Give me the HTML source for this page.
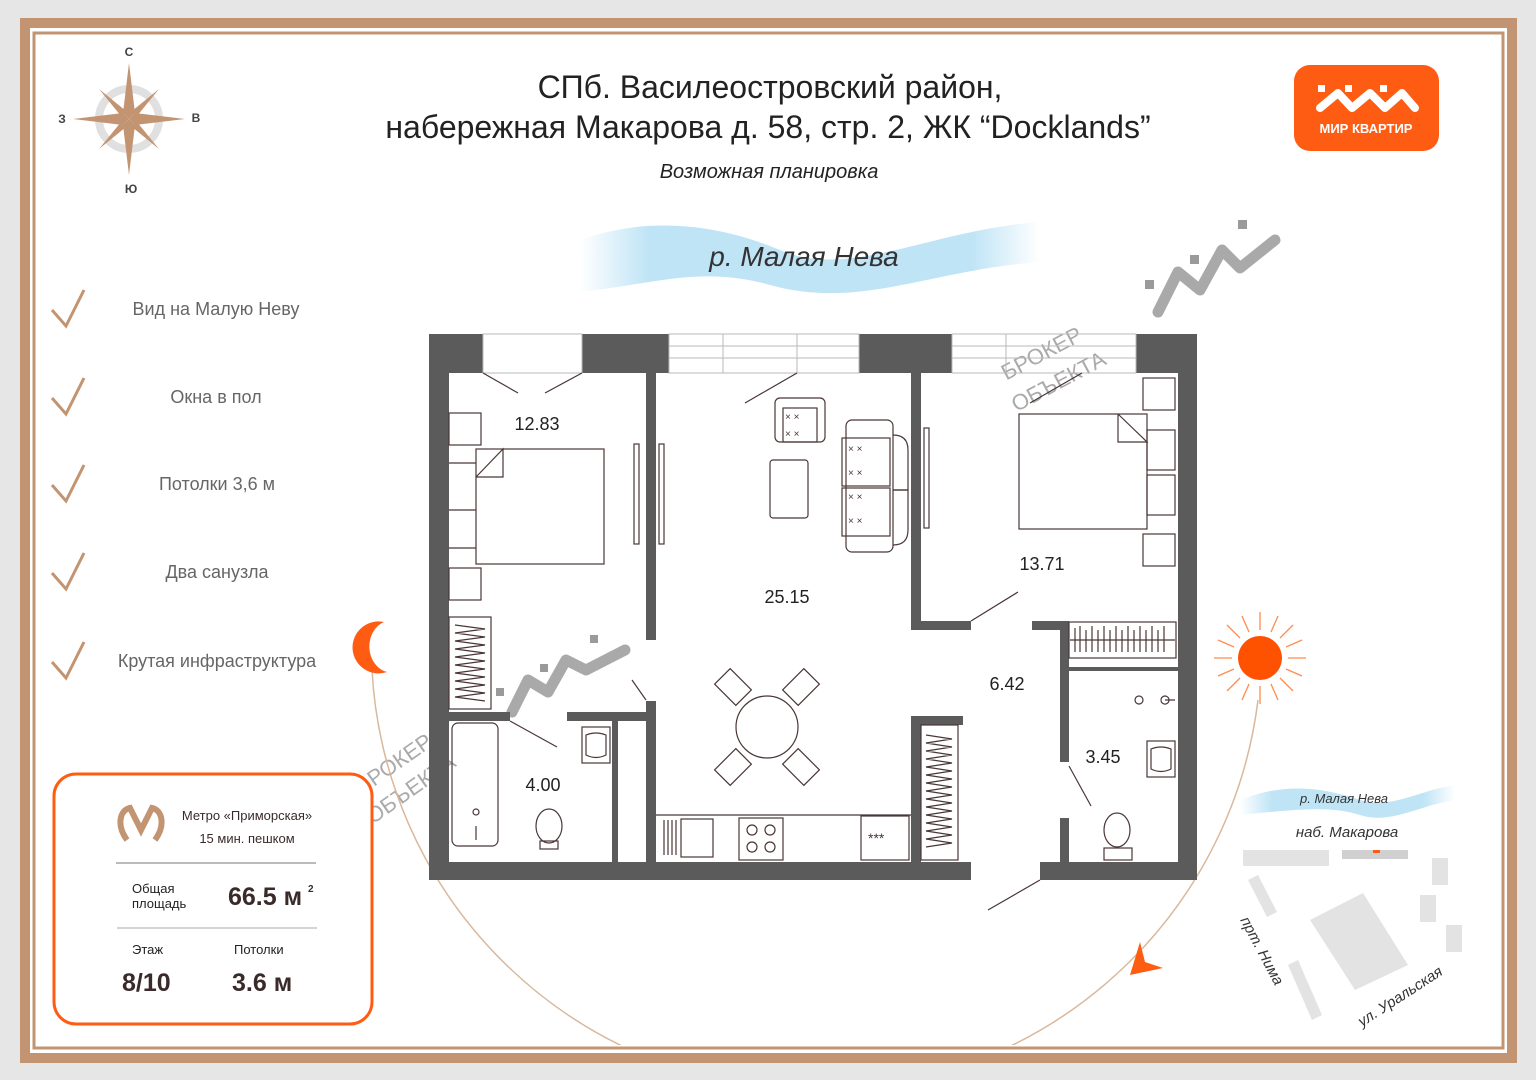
<!DOCTYPE html>
<html><head><meta charset="utf-8"><style>
html,body{margin:0;padding:0;background:#e6e6e6}
svg{display:block}
text{font-family:"Liberation Sans",sans-serif}
</style></head><body>
<svg width="1536" height="1080" viewBox="0 0 1536 1080" xmlns="http://www.w3.org/2000/svg">
<defs>
<linearGradient id="riv" x1="0" x2="1" y1="0" y2="0">
<stop offset="0" stop-color="#bfe4f6" stop-opacity="0"/><stop offset="0.15" stop-color="#bfe4f6"/><stop offset="0.85" stop-color="#bfe4f6"/><stop offset="1" stop-color="#bfe4f6" stop-opacity="0"/>
</linearGradient>
<clipPath id="fr"><rect x="36" y="35" width="1465" height="1010"/></clipPath>
</defs>
<rect x="0" y="0" width="1536" height="1080" fill="#e6e6e6"/>
<rect x="20" y="18" width="1497" height="1045" fill="#c39471"/>
<rect x="30" y="28" width="1477" height="1025" fill="#fff"/>
<rect x="34" y="33" width="1469" height="1015" fill="none" stroke="#c39471" stroke-width="3"/>

<!-- compass -->
<g transform="translate(129,119)">
<circle r="30" fill="none" stroke="#e0e0e0" stroke-width="8"/>
<g fill="#c39471">
<polygon points="0,-56 6,-6 0,0 -6,-6"/><polygon points="0,56 6,6 0,0 -6,6"/>
<polygon points="-56,0 -6,-6 0,0 -6,6"/><polygon points="56,0 6,-6 0,0 6,6"/>
<polygon points="-30,-30 -3,-8 -8,-3"/><polygon points="30,-30 3,-8 8,-3"/>
<polygon points="-30,30 -3,8 -8,3"/><polygon points="30,30 3,8 8,3"/>
</g>
</g>
<g font-size="12" font-weight="bold" fill="#444" text-anchor="middle">
<text x="129" y="56">С</text><text x="131" y="193">Ю</text><text x="62" y="123">З</text><text x="196" y="122">В</text>
</g>

<!-- title -->
<g fill="#222" text-anchor="middle">
<text x="770" y="98" font-size="32">СПб. Василеостровский район,</text>
<text x="768" y="138" font-size="32">набережная Макарова д. 58, стр. 2, ЖК “Docklands”</text>
<text x="769" y="178" font-size="20" font-style="italic">Возможная планировка</text>
</g>

<!-- logo -->
<rect x="1294" y="65" width="145" height="86" rx="16" fill="#ff5c13"/>
<g stroke="#fff" stroke-width="8" fill="none" stroke-linecap="round" stroke-linejoin="round">
<polyline points="1320,108 1338,93 1352,108 1370,93 1385,108 1402,93 1415,108"/>
</g>
<g fill="#fff"><rect x="1318" y="85" width="7" height="7"/><rect x="1345" y="85" width="7" height="7"/><rect x="1380" y="85" width="7" height="7"/></g>
<text x="1366" y="133" font-size="13" font-weight="bold" fill="#fff" text-anchor="middle">МИР КВАРТИР</text>

<!-- river -->
<path d="M580,240 C650,215 720,225 780,250 C850,280 930,230 1040,222 L1040,262 C930,270 860,310 770,285 C700,265 650,285 580,292 Z" fill="url(#riv)"/>
<text x="804" y="266" font-size="28" font-style="italic" fill="#333" text-anchor="middle">р. Малая Нева</text>

<!-- watermark logos -->
<g stroke="#9a9a9a" stroke-width="11" fill="none" stroke-linecap="round" stroke-linejoin="round" opacity="0.85">
<polyline points="1158,312 1178,272 1200,290 1222,250 1240,268 1275,240"/>
<polyline points="512,712 528,680 548,692 566,660 586,670 625,650"/>
</g>
<g fill="#9a9a9a"><rect x="1145" y="280" width="9" height="9"/><rect x="1190" y="255" width="9" height="9"/><rect x="1238" y="220" width="9" height="9"/>
<rect x="496" y="688" width="8" height="8"/><rect x="540" y="664" width="8" height="8"/><rect x="590" y="635" width="8" height="8"/></g>
<g fill="#aaa" font-size="22" text-anchor="middle">
<text transform="translate(1045,360) rotate(-28)">БРОКЕР</text>
<text transform="translate(1062,388) rotate(-28)">ОБЪЕКТА</text>
<text transform="translate(398,770) rotate(-35)">БРОКЕР</text>
<text transform="translate(415,795) rotate(-35)">ОБЪЕКТА</text>
</g>

<!-- checklist -->
<g stroke="#c39471" stroke-width="3" fill="none">
<polyline points="52,310 66,326 84,290"/><polyline points="52,398 66,414 84,378"/><polyline points="52,485 66,501 84,465"/><polyline points="52,573 66,589 84,553"/><polyline points="52,662 66,678 84,642"/>
</g>
<g fill="#666" font-size="18" text-anchor="middle">
<text x="216" y="315">Вид на Малую Неву</text>
<text x="216" y="403">Окна в пол</text>
<text x="217" y="490">Потолки 3,6 м</text>
<text x="217" y="578">Два санузла</text>
<text x="217" y="667">Крутая инфраструктура</text>
</g>

<!-- arc -->
<path d="M372,670 A445,445 0 0 0 1258,700" fill="none" stroke="#d9b89c" stroke-width="1.5" clip-path="url(#fr)"/>
<path d="M1130,975 L1163,968 L1145,962 L1140,942 Z" fill="#ff5c13"/>
<!-- moon -->
<path d="M384,622 A26,26 0 1 0 387,672 A22,26 0 0 1 384,622 Z" fill="#ff5c13"/>
<!-- sun -->
<g stroke="#ff8c50" stroke-width="1.3">
<g transform="translate(1260,658)">
<line x1="0" y1="-28" x2="0" y2="-46"/><line x1="0" y1="28" x2="0" y2="46"/><line x1="-28" y1="0" x2="-46" y2="0"/><line x1="28" y1="0" x2="46" y2="0"/>
<line x1="20" y1="-20" x2="33" y2="-33"/><line x1="-20" y1="-20" x2="-33" y2="-33"/><line x1="20" y1="20" x2="33" y2="33"/><line x1="-20" y1="20" x2="-33" y2="33"/>
<line x1="11" y1="-26" x2="18" y2="-42"/><line x1="-11" y1="-26" x2="-18" y2="-42"/><line x1="11" y1="26" x2="18" y2="42"/><line x1="-11" y1="26" x2="-18" y2="42"/>
<line x1="26" y1="-11" x2="42" y2="-18"/><line x1="-26" y1="-11" x2="-42" y2="-18"/><line x1="26" y1="11" x2="42" y2="18"/><line x1="-26" y1="11" x2="-42" y2="18"/>
</g></g>
<circle cx="1260" cy="658" r="22" fill="#ff5200"/>

<!-- mini map -->
<path d="M1240,800 C1290,780 1330,790 1360,800 C1390,810 1420,790 1455,785 L1455,800 C1420,805 1390,825 1360,815 C1330,805 1290,810 1240,815 Z" fill="url(#riv)"/>
<text x="1344" y="803" font-size="13" font-style="italic" fill="#333" text-anchor="middle">р. Малая Нева</text>
<text x="1347" y="837" font-size="15" font-style="italic" fill="#333" text-anchor="middle">наб. Макарова</text>
<g fill="#e3e3e3">
<rect x="1243" y="850" width="86" height="16"/><rect x="1342" y="850" width="66" height="9" fill="#d0d0d0"/>
<polygon points="1248,880 1258,875 1277,912 1267,917"/>
<polygon points="1310,920 1363,893 1408,965 1355,990"/>
<polygon points="1288,965 1298,960 1322,1015 1312,1020"/>
<rect x="1432" y="858" width="16" height="27"/><rect x="1420" y="895" width="16" height="27"/><rect x="1446" y="925" width="16" height="27"/>
</g>
<rect x="1373" y="850" width="7" height="3" fill="#ff5c13"/>
<text transform="translate(1240,920) rotate(62)" font-size="15" font-style="italic" fill="#333">прт. Нима</text>
<text transform="translate(1362,1027) rotate(-33)" font-size="15" font-style="italic" fill="#333">ул. Уральская</text>

<!-- info box -->
<rect x="54" y="774" width="318" height="250" rx="22" fill="#fff" stroke="#ff5c13" stroke-width="3"/>
<g fill="none" stroke="#c39471" stroke-width="6">
<path d="M127,840 C116,825 120,810 130,808 L141,830 L152,808 C162,810 166,825 155,840"/>
</g>
<g fill="#3a2a2a" font-size="13" text-anchor="middle">
<text x="247" y="820">Метро «Приморская»</text>
<text x="247" y="843">15 мин. пешком</text>
</g>
<line x1="116" y1="863" x2="316" y2="863" stroke="#777"/>
<line x1="117" y1="928" x2="317" y2="928" stroke="#aaa"/>
<text x="132" y="893" font-size="13" fill="#222">Общая</text>
<text x="132" y="908" font-size="13" fill="#222">площадь</text>
<text x="228" y="905" font-size="25" font-weight="bold" fill="#3a2a2a">66.5 м</text>
<text x="308" y="892" font-size="10" font-weight="bold" fill="#3a2a2a">2</text>
<text x="132" y="954" font-size="13" fill="#222">Этаж</text>
<text x="234" y="954" font-size="13" fill="#222">Потолки</text>
<text x="122" y="991" font-size="25" font-weight="bold" fill="#3a2a2a">8/10</text>
<text x="232" y="991" font-size="25" font-weight="bold" fill="#3a2a2a">3.6 м</text>

<!-- FLOOR PLAN -->
<g fill="#5b5b5b">
<rect x="429" y="334" width="20" height="546"/>
<rect x="1178" y="334" width="19" height="546"/>
<rect x="429" y="334" width="54" height="39"/>
<rect x="582" y="334" width="87" height="39"/>
<rect x="859" y="334" width="93" height="39"/>
<rect x="1136" y="334" width="42" height="39"/>
<rect x="429" y="862" width="542" height="18"/>
<rect x="1040" y="862" width="157" height="18"/>
<rect x="646" y="373" width="10" height="267"/>
<rect x="646" y="701" width="10" height="161"/>
<rect x="449" y="712" width="61" height="9"/>
<rect x="567" y="712" width="79" height="9"/>
<rect x="612" y="721" width="6" height="141"/>
<rect x="911" y="373" width="10" height="257"/>
<rect x="911" y="621" width="60" height="9"/>
<rect x="1032" y="621" width="37" height="9"/>
<rect x="1060" y="621" width="9" height="141"/>
<rect x="1060" y="818" width="9" height="44"/>
<rect x="911" y="716" width="52" height="9"/>
<rect x="911" y="716" width="10" height="146"/>
<rect x="1069" y="667" width="109" height="4"/>
</g>
<g stroke="#b8b8b8" stroke-width="1" fill="none">
<rect x="669" y="334" width="190" height="39"/>
<line x1="669" y1="346" x2="859" y2="346"/><line x1="669" y1="358" x2="859" y2="358"/>
<line x1="723" y1="334" x2="723" y2="373"/><line x1="797" y1="334" x2="797" y2="373"/>
<rect x="952" y="334" width="184" height="39"/>
<line x1="952" y1="346" x2="1136" y2="346"/><line x1="952" y1="358" x2="1136" y2="358"/>
<line x1="1006" y1="334" x2="1006" y2="373"/>
<rect x="483" y="334" width="99" height="39"/>
</g>
<g stroke="#4a3636" stroke-width="1.2" fill="none">
<line x1="483" y1="373" x2="518" y2="393"/><line x1="582" y1="373" x2="545" y2="393"/>
<line x1="797" y1="373" x2="745" y2="403"/>
<line x1="1082" y1="373" x2="1030" y2="403"/>
<line x1="1018" y1="592" x2="971" y2="621"/>
<line x1="632" y1="680" x2="646" y2="700"/>
<line x1="510" y1="721" x2="557" y2="747"/>
<line x1="1069" y1="766" x2="1091" y2="806"/>
<line x1="1040" y1="880" x2="988" y2="910"/>
<rect x="449" y="413" width="32" height="32"/><rect x="449" y="568" width="32" height="32"/>
<rect x="476" y="449" width="128" height="115"/>
<polyline points="476,477 503,449 503,477 476,477"/>
<line x1="449" y1="463" x2="476" y2="463"/><line x1="449" y1="510" x2="476" y2="510"/><line x1="449" y1="548" x2="476" y2="548"/>
<rect x="634" y="444" width="5" height="100"/><rect x="659" y="444" width="5" height="100"/>
<rect x="924" y="428" width="5" height="100"/>
<rect x="449" y="617" width="42" height="92"/>
<path d="M455,625 l30,4 l-30,4 l30,4 l-30,4 l30,4 l-30,4 l30,4 l-30,4 l30,4 l-30,4 l30,4 l-30,4 l30,4 l-30,4 l30,4 l-30,4 l30,4 l-30,4 l30,4"/>
<rect x="775" y="398" width="50" height="44" rx="5"/><rect x="783" y="408" width="34" height="34"/>
<rect x="770" y="460" width="38" height="58" rx="3"/>
<rect x="846" y="420" width="47" height="132" rx="6"/>
<rect x="842" y="438" width="48" height="48"/><rect x="842" y="488" width="48" height="48"/>
<path d="M893,435 q15,0 15,15 v40 h-15"/><path d="M893,490 h15 v40 q0,15 -15,15"/>
<circle cx="767" cy="727" r="31"/>
<g transform="translate(767,727)">
<rect x="-45" y="-55" width="22" height="30" transform="rotate(-45 -34 -40)"/>
<rect x="23" y="-55" width="22" height="30" transform="rotate(45 34 -40)"/>
<rect x="-45" y="25" width="22" height="30" transform="rotate(45 -34 40)"/>
<rect x="23" y="25" width="22" height="30" transform="rotate(-45 34 40)"/>
</g>
<line x1="656" y1="815" x2="911" y2="815"/>
<rect x="681" y="819" width="32" height="38"/><rect x="739" y="818" width="44" height="42"/>
<circle cx="752" cy="830" r="5"/><circle cx="770" cy="830" r="5"/><circle cx="752" cy="847" r="5"/><circle cx="770" cy="847" r="5"/>
<rect x="861" y="816" width="48" height="44"/>
<line x1="664" y1="820" x2="664" y2="855"/><line x1="668" y1="820" x2="668" y2="855"/><line x1="672" y1="820" x2="672" y2="855"/><line x1="676" y1="820" x2="676" y2="855"/>
<rect x="921" y="725" width="37" height="135"/>
<path d="M926,735 l26,4 l-26,4 l26,4 l-26,4 l26,4 l-26,4 l26,4 l-26,4 l26,4 l-26,4 l26,4 l-26,4 l26,4 l-26,4 l26,4 l-26,4 l26,4 l-26,4 l26,4 l-26,4 l26,4 l-26,4 l26,4 l-26,4 l26,4 l-26,4 l26,4 l-26,4"/>
<rect x="452" y="723" width="46" height="123" rx="6"/>
<circle cx="476" cy="812" r="3"/><line x1="476" y1="826" x2="476" y2="840"/>
<rect x="582" y="727" width="28" height="36"/><path d="M586,735 q10,-4 20,0 v20 q-10,5 -20,0 z"/>
<ellipse cx="549" cy="826" rx="13" ry="17"/><rect x="540" y="841" width="18" height="8"/>
<rect x="1143" y="378" width="32" height="32"/><rect x="1143" y="534" width="32" height="32"/>
<rect x="1019" y="414" width="128" height="115"/>
<polyline points="1118,414 1147,442 1118,442 1118,414"/>
<rect x="1147" y="430" width="28" height="40"/><rect x="1147" y="475" width="28" height="40"/>
<rect x="1069" y="622" width="107" height="36"/>
<path d="M1075,628 v24 M1080,626 v26 M1086,630 v22 M1092,626 v26 M1098,630 v22 M1104,626 v26 M1110,630 v22 M1116,626 v26 M1122,630 v22 M1128,626 v26 M1134,630 v22 M1140,626 v26 M1146,630 v22 M1152,626 v26 M1158,630 v22 M1164,626 v26 M1070,640 h105"/>
<circle cx="1139" cy="700" r="4"/><path d="M1161,700 a4,4 0 1 1 0,0.1 M1165,700 h10"/>
<rect x="1147" y="741" width="28" height="36"/><path d="M1151,749 q10,-4 20,0 v20 q-10,5 -20,0 z"/>
<ellipse cx="1117" cy="830" rx="13" ry="17"/><rect x="1104" y="848" width="28" height="12"/>
</g>
<g fill="#4a3636" font-size="10">
<text x="785" y="420">× ×</text><text x="785" y="437">× ×</text>
<text x="848" y="452">×    ×</text><text x="848" y="476">×    ×</text><text x="848" y="500">×    ×</text><text x="848" y="524">×    ×</text>
<text x="868" y="843" font-size="14">***</text>
</g>
<g fill="#222" font-size="18" text-anchor="middle">
<text x="537" y="430">12.83</text>
<text x="787" y="603">25.15</text>
<text x="1042" y="570">13.71</text>
<text x="1007" y="690">6.42</text>
<text x="1103" y="763">3.45</text>
<text x="543" y="791">4.00</text>
</g>
</svg>
</body></html>
